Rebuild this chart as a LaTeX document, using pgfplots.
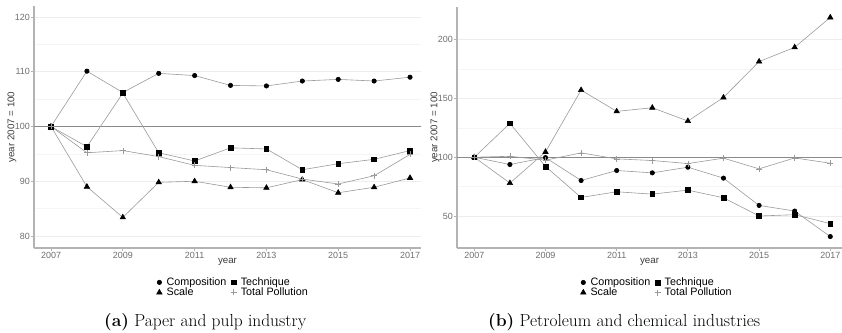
\documentclass[border=0pt]{standalone}
\usepackage{pgfplots}
\usepackage{pgfplotstable}
\pgfplotsset{compat=1.18}
\usepackage{fontspec}
\newfontfamily\ggfont{Liberation Sans}
\newfontfamily\capfont{Latin Modern Roman}

\definecolor{axisgray}{HTML}{B3B3B3}
\definecolor{ticktext}{HTML}{6E6E6E}
\definecolor{titletext}{HTML}{3C3C3C}
\definecolor{linegray}{HTML}{9A9A9A}
\definecolor{refgray}{HTML}{8A8A8A}

% Index, year 2007 = 100
\pgfplotstableread{
year comp  tech  scale total
2007 100.0 100.0 100.0 100.0
2008 110.1  96.3  89.0  95.2
2009 106.2 106.1  83.4  95.6
2010 109.7  95.2  89.8  94.5
2011 109.3  93.7  90.0  92.9
2012 107.5  96.1  88.9  92.5
2013 107.4  95.9  88.8  92.1
2014 108.3  92.1  90.3  90.4
2015 108.6  93.2  87.9  89.5
2016 108.3  94.0  88.9  91.0
2017 109.0  95.6  90.6  94.9
}\paper

\pgfplotstableread{
year comp  tech  scale total
2007 100.0 100.0 100.0 100.0
2008  93.8 128.8  78.0 100.8
2009  99.7  92.1 104.5  97.5
2010  80.2  65.8 157.1 103.7
2011  88.7  70.6 139.0  98.6
2012  86.7  68.6 142.1  97.2
2013  91.5  72.0 130.8  94.6
2014  82.2  65.5 150.8  99.2
2015  59.0  50.0 181.4  90.1
2016  54.2  51.1 193.5  99.4
2017  32.5  43.5 218.9  94.9
}\petro

\pgfplotsset{
  panel/.style={
    scale only axis,
    axis lines=left,
    every outer x axis line/.append style={-},
    every outer y axis line/.append style={-},
    axis line style={draw=axisgray, line width=1.1bp},
    tick align=outside,
    major tick length=3bp,
    minor tick length=0bp,
    tick style={draw=axisgray, line width=0.8bp},
    xtick={2007,2009,...,2017},
    x tick label style={/pgf/number format/1000 sep={}},
    tick label style={font=\ggfont\fontsize{9}{10}\selectfont, text=ticktext, inner sep=1bp},
    /pgf/number format/assume math mode=true,
    ymajorgrids, yminorgrids,
    minor y tick num=1,
    major grid style={draw=black!7, line width=0.6bp},
    minor grid style={draw=black!4, line width=0.5bp},
    every axis x label/.style={at={(axis description cs:0.5,0)}, yshift=-14bp, anchor=center,
      font=\ggfont\fontsize{9.8}{11}\selectfont, text=titletext},
    every axis y label/.style={at={(axis description cs:0,0.5)}, xshift=-22bp, rotate=90, anchor=center,
      font=\ggfont\fontsize{9.8}{11}\selectfont, text=titletext},
    xlabel={year},
    ylabel={year 2007 = 100},
    legend columns=2,
    legend cell align=left,
    legend style={draw=none, fill=none, anchor=center,
      font=\ggfont\fontsize{10.8}{12}\selectfont, text=black,
      inner sep=0bp, row sep=0bp,
      nodes={inner sep=0.4bp},
      /tikz/every even column/.append style={column sep=3.5bp}},
    legend image code/.code={\path (0bp,0bp) (9.5bp,0bp); \draw[#1] plot coordinates {(3bp,0bp)};},
  },
  series/.style={draw=linegray, line width=0.6bp, mark options={solid, draw=black, fill=black}},
  comp/.style={series, mark=*, mark size=2.2bp},
  tech/.style={series, mark=square*, mark size=2.35bp},
  scal/.style={series, mark=triangle*, mark size=3.1bp},
  totl/.style={series, mark=+, mark size=3bp, mark options={draw=linegray, fill=linegray, line width=0.6bp}},
  refline/.style={draw=refgray, line width=0.9bp, forget plot},
}

\begin{document}
\begin{tikzpicture}[x=1bp, y=1bp]
\useasboundingbox (0,0) rectangle (842,332);

% (a) paper and pulp
\begin{axis}[panel,
  at={(34bp,84bp)}, anchor=south west,
  width=387bp, height=242bp,
  xmin=2006.526, xmax=2017.306,
  ymin=77.81, ymax=122.0,
  ytick={80,90,...,120},
  legend style={at={(0.512,-0.163)}},
]
\addplot[refline] coordinates {(2006,100) (2018,100)};
\addplot[comp, forget plot] table[x=year, y=comp] {\paper};
\addplot[tech, forget plot] table[x=year, y=tech] {\paper};
\addplot[scal, forget plot] table[x=year, y=scale] {\paper};
\addplot[totl, forget plot] table[x=year, y=total] {\paper};
\addlegendimage{comp, only marks}\addlegendentry{Composition}
\addlegendimage{tech, only marks}\addlegendentry{Technique}
\addlegendimage{scal, only marks}\addlegendentry{Scale}
\addlegendimage{totl, only marks}\addlegendentry{Total Pollution}
\end{axis}

% (b) petroleum and chemical
\begin{axis}[panel,
  at={(457bp,84bp)}, anchor=south west,
  width=385bp, height=241bp,
  xmin=2006.514, xmax=2017.33,
  ymin=22.77, ymax=227.8,
  ytick={50,100,...,200},
  legend style={at={(0.517,-0.164)}},
]
\addplot[refline] coordinates {(2006,100) (2018,100)};
\addplot[comp, forget plot] table[x=year, y=comp] {\petro};
\addplot[tech, forget plot] table[x=year, y=tech] {\petro};
\addplot[scal, forget plot] table[x=year, y=scale] {\petro};
\addplot[totl, forget plot] table[x=year, y=total] {\petro};
\addlegendimage{comp, only marks}\addlegendentry{Composition}
\addlegendimage{tech, only marks}\addlegendentry{Technique}
\addlegendimage{scal, only marks}\addlegendentry{Scale}
\addlegendimage{totl, only marks}\addlegendentry{Total Pollution}
\end{axis}

\node[anchor=base west, inner sep=0] at (104,6)
  {\capfont\fontsize{17.5}{20}\selectfont\textbf{(a)} Paper and pulp industry};
\node[anchor=base west, inner sep=0] at (488,6)
  {\capfont\fontsize{17.5}{20}\selectfont\textbf{(b)} Petroleum and chemical industries};
\end{tikzpicture}
\end{document}
